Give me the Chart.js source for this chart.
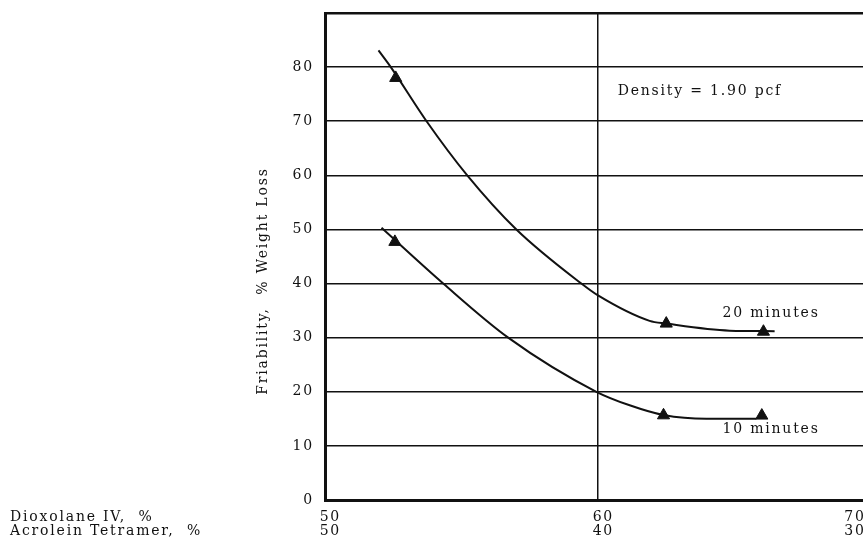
<!DOCTYPE html>
<html>
<head>
<meta charset="utf-8">
<script src="https://cdn.jsdelivr.net/npm/chart.js@4"></script>
<style>
  html, body { margin: 0; padding: 0; background: #fff; overflow: hidden; }
  #wrap { width: 900px; height: 540px; }
</style>
</head>
<body>
<div id="wrap"><canvas id="chart" width="900" height="540"></canvas></div>
<script>
// --- DATOS ---
const xTickValues = [50, 60, 70];          // Dioxolane IV, %
const acroleinLabels = ['50', '40', '30']; // Acrolein Tetramer, %

// curvas dibujadas a mano (20 y 10 minutos)
const curve20X = [51.96, 52.41, 53.72, 55.21, 57.01, 59.39, 60.0, 61.89, 62.5, 64.82, 66.47];
const curve20Y = [83.1, 80.0, 70.0, 60.0, 50.0, 40.0, 37.8, 33.1, 32.6, 31.3, 31.2];
const curve10X = [52.07, 54.33, 56.71, 59.94, 61.16, 62.4, 63.97, 65.8];
const curve10Y = [50.3, 40.0, 30.0, 20.0, 17.5, 15.7, 15.0, 15.0];

// puntos medidos (triángulos)
const pts20X = [52.59, 62.5, 66.06];
const pts20Y = [78.0, 32.6, 31.1];
const pts10X = [52.56, 62.4, 66.0];
const pts10Y = [47.7, 15.65, 15.6];

const FONT = '"DejaVu Serif", serif';
const SIZE = 14;
const INK = '#111';
const FIG = '\u2007'; // espacio de cifra: corre un poco las etiquetas como en el original

const toXY = (xs, ys) => xs.map((x, i) => ({ x: x, y: ys[i] }));

// texto espaciado como en la figura original (máquina de escribir)
const spacingPlugin = {
  id: 'spacing',
  beforeDraw(chart) { chart.ctx.letterSpacing = '1.8px'; }
};

// --- TEXTOS SUELTOS ---
const textPlugin = {
  id: 'texts',
  afterDraw(chart) {
    const { ctx, scales: { x, y } } = chart;
    ctx.save();
    ctx.fillStyle = INK;
    ctx.font = SIZE + 'px ' + FONT;
    ctx.letterSpacing = '1.8px';
    ctx.textBaseline = 'middle';
    ctx.textAlign = 'left';
    ctx.fillText('Density = 1.90 pcf', x.getPixelForValue(60.72), y.getPixelForValue(75.5));
    ctx.fillText('20 minutes', x.getPixelForValue(64.56), y.getPixelForValue(34.4));
    ctx.fillText('10 minutes', x.getPixelForValue(64.56), y.getPixelForValue(13.1));
    // títulos del eje x, a la izquierda
    ctx.fillText('Dioxolane IV,  %', 10, 517);
    ctx.fillText('Acrolein Tetramer,  %', 10, 531);
    ctx.restore();
  }
};

const xLabelPad = { 50: [FIG, ''], 60: [FIG, ''], 70: ['', FIG.repeat(3)] };

new Chart(document.getElementById('chart'), {
  type: 'scatter',
  data: {
    datasets: [{
      label: '20 minutes',
      data: toXY(curve20X, curve20Y),
      showLine: true,
      borderColor: INK,
      borderWidth: 2,
      pointRadius: 0,
      cubicInterpolationMode: 'monotone'
    }, {
      label: '10 minutes',
      data: toXY(curve10X, curve10Y),
      showLine: true,
      borderColor: INK,
      borderWidth: 2,
      pointRadius: 0,
      cubicInterpolationMode: 'monotone'
    }, {
      label: 'pts20',
      data: toXY(pts20X, pts20Y),
      pointStyle: 'triangle',
      pointRadius: 7,
      backgroundColor: INK,
      borderColor: INK,
      borderWidth: 1
    }, {
      label: 'pts10',
      data: toXY(pts10X, pts10Y),
      pointStyle: 'triangle',
      pointRadius: 7,
      backgroundColor: INK,
      borderColor: INK,
      borderWidth: 1
    }]
  },
  options: {
    responsive: false,
    animation: false,
    layout: { padding: { left: 251, top: 13, right: 29, bottom: 0 } },
    plugins: { legend: { display: false }, tooltip: { enabled: false } },
    scales: {
      x: {
        type: 'linear',
        min: 50,
        max: 70,
        afterFit: s => { s.height = 40; s.paddingLeft = 0; s.paddingRight = 0; },
        afterBuildTicks: s => { s.ticks = xTickValues.map(v => ({ value: v })); },
        ticks: {
          padding: 10,
          color: INK,
          font: { family: FONT, size: SIZE, lineHeight: 1.0 },
          maxRotation: 0,
          autoSkip: false,
          callback: v => {
            const i = xTickValues.indexOf(v);
            const [pre, post] = xLabelPad[v];
            return [pre + String(v) + post, pre + acroleinLabels[i] + post];
          }
        },
        grid: {
          drawTicks: false,
          color: c => (c.tick && c.tick.value === 60 ? INK : 'rgba(0,0,0,0)'),
          lineWidth: 1.5
        },
        border: { display: true, color: INK, width: 3 }
      },
      y: {
        type: 'linear',
        min: 0,
        max: 90,
        afterFit: s => { s.width = 74; s.paddingTop = 0; s.paddingBottom = 0; },
        ticks: {
          stepSize: 10,
          padding: 11,
          color: INK,
          font: { family: FONT, size: SIZE },
          callback: v => (v === 90 ? '' : String(v))
        },
        grid: {
          drawTicks: false,
          color: INK,
          lineWidth: c => (c.tick && c.tick.value === 90 ? 2.5 : 1.5)
        },
        border: { display: true, color: INK, width: 3 },
        title: {
          display: true,
          text: 'Friability,  % Weight Loss' + FIG.repeat(4) + ' ',
          color: INK,
          font: { family: FONT, size: SIZE }
        }
      }
    }
  },
  plugins: [spacingPlugin, textPlugin]
});
</script>
</body>
</html>
